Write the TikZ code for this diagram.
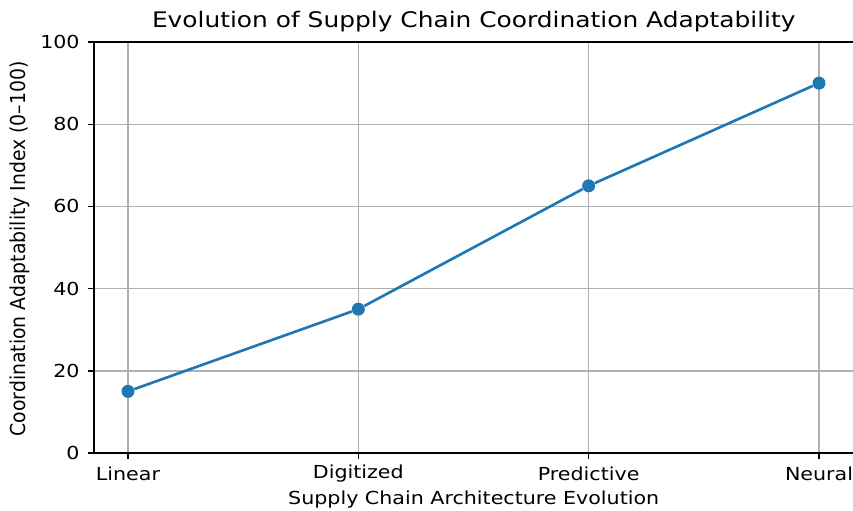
\documentclass[tikz,border=0pt]{standalone}
\usepackage{fontspec}
\setmainfont{DejaVu Sans}
\definecolor{lineBlue}{HTML}{1F77B4}
\definecolor{gridGray}{HTML}{B0B0B0}
\begin{document}
\begin{tikzpicture}
[x=0.02cm,y=-0.02cm,%
  gridDecorate/.style={draw=gridGray,line width=0.8pt},%
  axisDecorate/.style={draw=black,line width=0.8pt},%
  lineDecorate/.style={-,draw=lineBlue,line width=1.5pt},%
  nodeDecorate/.style={shape=circle,inner sep=0pt,minimum size=0.26cm,fill=lineBlue},%
  tickText/.style={inner sep=0pt,xscale=1.15,font=\fontsize{10.2pt}{12pt}\selectfont}]
\useasboundingbox (0,0) rectangle (853,511);
%% grid lines
\foreach \i in {0,...,3}
{
  \draw[gridDecorate] ({128+230.33*\i},42) -- ({128+230.33*\i},453);
}
\foreach \v in {20,40,...,80}
{
  \draw[gridDecorate] (94,{453-4.11*\v}) -- (853,{453-4.11*\v});
}
%% spines and ticks
\draw[axisDecorate] (853,42) -- (94,42) -- (94,453) -- (853,453);
\foreach \v in {0,20,...,100}
{
  \draw[axisDecorate] (88,{453-4.11*\v}) -- (94,{453-4.11*\v});
  \node (ytick\v) at (80,{453-4.11*\v}) [tickText,anchor=east] {\v};
}
\foreach \catname/\i in {Linear/0, Digitized/1, Predictive/2, Neural/3}
{
  \draw[axisDecorate] ({128+230.33*\i},453) -- ({128+230.33*\i},459);
  \node (xtick\i) at ({128+230.33*\i},474) [tickText] {\catname};
}
%% axis labels and title
\node (xlabel) at (473.7,500) [tickText] {Supply Chain Architecture Evolution};
\node (ylabel) at (20,249) [inner sep=0pt,rotate=90,xscale=1.05,yscale=1.15,
  font=\fontsize{10.2pt}{12pt}\selectfont] {Coordination Adaptability Index (0–100)};
\node (title) at (473.7,22) [inner sep=0pt,xscale=1.16,font=\fontsize{12.2pt}{14pt}\selectfont]
  {Evolution of Supply Chain Coordination Adaptability};
%% data points
\foreach \nodename/\i/\v in {
  p1/0/15, p2/1/35, p3/2/65, p4/3/90}
{
  \node (\nodename) at ({128+230.33*\i},{453-4.11*\v}) [nodeDecorate] {};
}
%% connecting line
\path
\foreach \startnode/\endnode in {
  p1/p2, p2/p3, p3/p4}
{
  (\startnode) edge[lineDecorate] (\endnode)
};
\end{tikzpicture}
\end{document}
